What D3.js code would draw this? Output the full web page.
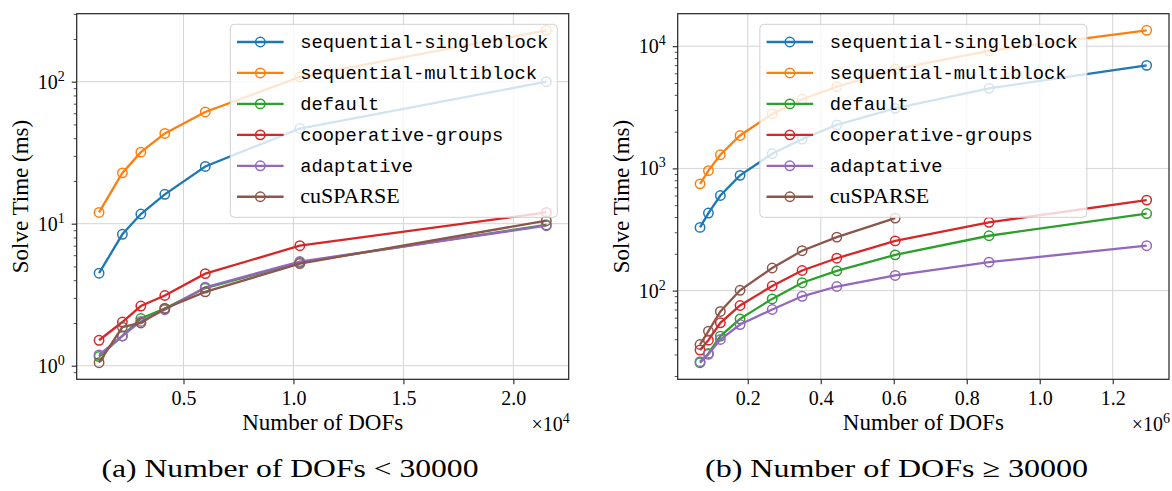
<!DOCTYPE html>
<html>
<head>
<meta charset="utf-8">
<script src="https://cdnjs.cloudflare.com/ajax/libs/d3/7.8.5/d3.min.js"></script>
<style>
body { margin: 0; background: #fff; }
svg text { font-family: "Liberation Serif", "Times New Roman", serif; fill: #000; }
</style>
</head>
<body>
<svg id="chart" width="1172" height="491"></svg>
<script>
// series labels + matplotlib tab10 colours
var seriesNames = ["sequential-singleblock", "sequential-multiblock", "default",
    "cooperative-groups", "adaptative", "cuSPARSE"];
var seriesColors = ["#1f77b4", "#ff7f0e", "#2ca02c", "#d62728", "#9467bd", "#8c564b"];

// (a) DOFs < 30000
var dofsSmall = [1160, 2220, 3060, 4150, 5990, 10290, 21500];
var singleblockSmall = [4.48, 8.42, 11.7, 16.1, 25.3, 46.8, 100];
var multiblockSmall = [12.0, 22.8, 31.9, 43.2, 61.2, 108, 230];
var defaultSmall = [1.16, 1.62, 2.15, 2.53, 3.52, 5.35, 9.8];
var coopSmall = [1.51, 2.03, 2.63, 3.12, 4.45, 7.0, 12.0];
var adaptativeSmall = [1.19, 1.62, 2.05, 2.48, 3.57, 5.41, 9.68];
var cusparseSmall = [1.05, 1.87, 2.0, 2.53, 3.31, 5.24, 10.5];
var xTicksSmall = [5000, 10000, 15000, 20000];

// (b) DOFs >= 30000
var dofsLarge = [69300, 92300, 125000, 179000, 267000, 349000, 444000, 604000, 861000, 1293000];
var singleblockLarge = [329, 431, 600, 877, 1318, 1735, 2270, 3100, 4520, 6970];
var multiblockLarge = [747, 958, 1293, 1859, 2793, 3680, 4660, 6500, 9160, 13490];
var defaultLarge = [25.7, 30.6, 42.4, 58.7, 85.5, 116, 145, 196, 281, 427];
var coopLarge = [32.6, 39.3, 54.5, 75.5, 109, 146, 184, 255, 362, 550];
var adaptativeLarge = [26.2, 30.1, 39.8, 52.7, 70, 89.8, 108, 133, 171, 233];
var cusparseLarge = [36.2, 46.6, 67.5, 100.5, 153, 212, 274, 392];
var xTicksLarge = [200000, 400000, 600000, 800000, 1000000, 1200000];

var svg = d3.select("#chart");

function padLinear(v) {
    var e = d3.extent(v), m = (e[1] - e[0]) * 0.05;
    return [e[0] - m, e[1] + m];
}
function padLog(v) {
    var e = d3.extent(v).map(Math.log10), m = (e[1] - e[0]) * 0.05;
    return [Math.pow(10, e[0] - m), Math.pow(10, e[1] + m)];
}

function drawPanel(p) {
    var g = svg.append("g");
    var x = d3.scaleLinear().domain(padLinear(p.dofs)).range([p.left, p.right]);
    var y = d3.scaleLog().domain(padLog(d3.merge(p.series))).range([p.bottom, p.top]);

    var dom = y.domain();
    var allY = y.ticks().filter(function(d) { return d >= dom[0] && d <= dom[1]; });
    var isMajor = function(d) { return Math.abs(Math.log10(d) - Math.round(Math.log10(d))) < 1e-9; };
    var majorY = allY.filter(isMajor);
    var minorY = allY.filter(function(d) { return !isMajor(d); });

    // grid
    g.append("g").selectAll("line").data(majorY).join("line")
        .attr("x1", p.left).attr("x2", p.right)
        .attr("y1", function(d) { return y(d); }).attr("y2", function(d) { return y(d); })
        .attr("stroke", "#d4d4d4").attr("stroke-width", 1);
    g.append("g").selectAll("line").data(p.xTicks).join("line")
        .attr("x1", function(d) { return x(d); }).attr("x2", function(d) { return x(d); })
        .attr("y1", p.top).attr("y2", p.bottom)
        .attr("stroke", "#d4d4d4").attr("stroke-width", 1);

    // ticks
    var ax = g.append("g").attr("transform", "translate(0," + p.bottom + ")")
        .call(d3.axisBottom(x).tickValues(p.xTicks).tickSize(5).tickPadding(6.5)
            .tickFormat(function(d) { return (d / p.xUnit).toFixed(1); }));
    ax.select(".domain").remove();
    ax.selectAll("line").attr("stroke", "#222").attr("stroke-width", 1.1);
    ax.selectAll("text").attr("font-size", 20).attr("font-family", "Liberation Serif").attr("fill", "#000");

    var ayMin = g.append("g").attr("transform", "translate(" + p.left + ",0)")
        .call(d3.axisLeft(y).tickValues(minorY).tickSize(3).tickFormat(""));
    ayMin.select(".domain").remove();
    ayMin.selectAll("line").attr("stroke", "#222").attr("stroke-width", 0.8);
    var ayMaj = g.append("g").attr("transform", "translate(" + p.left + ",0)")
        .call(d3.axisLeft(y).tickValues(majorY).tickSize(5).tickFormat(""));
    ayMaj.select(".domain").remove();
    ayMaj.selectAll("line").attr("stroke", "#222").attr("stroke-width", 1.1);

    // 10^k labels
    majorY.forEach(function(d) {
        var t = g.append("text").attr("x", p.left - 12).attr("y", y(d) + 7)
            .attr("text-anchor", "end").attr("font-size", 20);
        t.append("tspan").text("10");
        t.append("tspan").attr("dy", -8).attr("font-size", 14).text(Math.round(Math.log10(d)));
    });

    // offset text x10^n
    var off = g.append("text").attr("x", p.right + 1).attr("y", 431)
        .attr("text-anchor", "end").attr("font-size", 20);
    off.append("tspan").text("\u00d710");
    off.append("tspan").attr("dy", -8).attr("font-size", 14).text(p.xExp);

    // axis labels
    g.append("text").attr("x", (p.left + p.right) / 2).attr("y", 430)
        .attr("text-anchor", "middle").attr("font-size", 23).text("Number of DOFs");
    g.append("text").attr("transform", "translate(" + (p.left - 49) + "," + ((p.top + p.bottom) / 2) + ") rotate(-90)")
        .attr("text-anchor", "middle").attr("font-size", 23).text("Solve Time (ms)");

    // lines + open circle markers
    var line = d3.line().x(function(d) { return x(d[0]); }).y(function(d) { return y(d[1]); });
    p.series.forEach(function(vals, i) {
        var pts = vals.map(function(v, k) { return [p.dofs[k], v]; });
        g.append("path").datum(pts).attr("d", line).attr("fill", "none")
            .attr("stroke", seriesColors[i]).attr("stroke-width", 2.3);
        g.append("g").selectAll("circle").data(pts).join("circle")
            .attr("cx", function(d) { return x(d[0]); }).attr("cy", function(d) { return y(d[1]); })
            .attr("r", 4.7).attr("fill", "none")
            .attr("stroke", seriesColors[i]).attr("stroke-width", 1.5);
    });

    // legend
    var lg = g.append("g").attr("transform", "translate(" + p.legendX + ",24.3)");
    lg.append("rect").attr("width", 327).attr("height", 193).attr("rx", 4)
        .attr("fill", "rgba(255,255,255,0.8)").attr("stroke", "#d0d0d0").attr("stroke-width", 1);
    seriesNames.forEach(function(name, i) {
        var cy = 17.7 + i * 30.95;
        lg.append("line").attr("x1", 6.7).attr("x2", 53.3).attr("y1", cy).attr("y2", cy)
            .attr("stroke", seriesColors[i]).attr("stroke-width", 2.3);
        lg.append("circle").attr("cx", 30).attr("cy", cy).attr("r", 4.7).attr("fill", "none")
            .attr("stroke", seriesColors[i]).attr("stroke-width", 1.5);
        var mono = name != "cuSPARSE";
        lg.append("text").attr("x", 70).attr("y", cy + 6.5)
            .style("font-family", mono ? "'Liberation Mono', monospace" : "'Liberation Serif', serif")
            .attr("font-size", mono ? 18.8 : 22).text(name);
    });

    // frame
    g.append("rect").attr("x", p.left).attr("y", p.top)
        .attr("width", p.right - p.left).attr("height", p.bottom - p.top)
        .attr("fill", "none").attr("stroke", "#222").attr("stroke-width", 1.2);

    // caption
    g.append("text").attr("x", p.captionX).attr("y", 477).attr("text-anchor", "middle")
        .attr("font-size", 26).attr("textLength", p.captionW).attr("lengthAdjust", "spacingAndGlyphs")
        .text(p.caption);
}

drawPanel({
    left: 76.7, right: 568.7, top: 13.7, bottom: 379.3,
    dofs: dofsSmall,
    series: [singleblockSmall, multiblockSmall, defaultSmall, coopSmall, adaptativeSmall, cusparseSmall],
    xTicks: xTicksSmall, xUnit: 1e4, xExp: "4",
    legendX: 568.7 - 11.4 - 327,
    caption: "(a) Number of DOFs < 30000", captionX: 290, captionW: 377
});

drawPanel({
    left: 677.7, right: 1169, top: 13.7, bottom: 379.3,
    dofs: dofsLarge,
    series: [singleblockLarge, multiblockLarge, defaultLarge, coopLarge, adaptativeLarge, cusparseLarge],
    xTicks: xTicksLarge, xUnit: 1e6, xExp: "6",
    legendX: (677.7 + 1169) / 2 - 163.5,
    caption: "(b) Number of DOFs \u2265 30000", captionX: 896.5, captionW: 383
});
</script>
</body>
</html>
